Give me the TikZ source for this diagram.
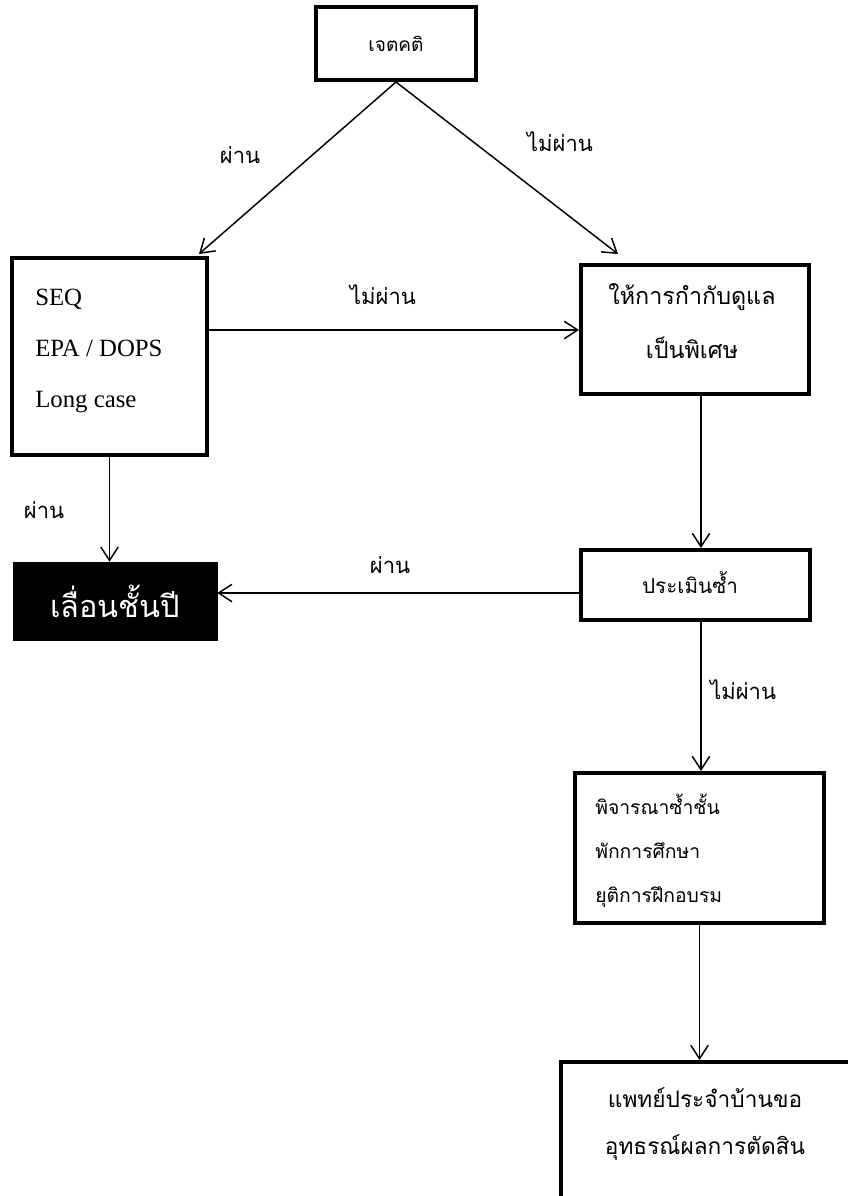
\documentclass[tikz,border=0pt]{standalone}
\usepackage{fontspec}
\setmainfont{Liberation Serif}
\newfontfamily\thai[Script=Thai]{Loma}
\usetikzlibrary{arrows.meta,calc}
\begin{document}
\begin{tikzpicture}[x=0.75pt,y=-0.75pt,
  box/.style={draw,line width=3pt,rectangle,inner sep=0pt},
  conn/.style={line width=1.1pt,-{Straight Barb[length=10pt,width=13pt,line width=1.1pt]}},
  lbl/.style={font=\thai\fontsize{16.5}{18}\selectfont,inner sep=0pt}]
\useasboundingbox (0,0) rectangle (848,1196);
\clip (0,0) rectangle (848,1196);
\node[box,minimum width=160*0.75pt,minimum height=73*0.75pt,font=\thai\fontsize{14.3}{16}\selectfont] (top) at (396,43.5) {เจตคติ};
\node[box,minimum width=195*0.75pt,minimum height=197*0.75pt] (seq) at (109.5,356.5) {};
\node[anchor=west,align=left,inner sep=0pt,font=\fontsize{18.6}{38}\selectfont] (seqt) at (35,351) {SEQ\\EPA / DOPS\\Long case};
\node[box,minimum width=228*0.75pt,minimum height=129*0.75pt] (rb) at (695,329.5) {};
\node[align=center,inner sep=0pt,font=\thai\fontsize{17.5}{40}\selectfont] (rbt) at (692,321) {ให้การกำกับดูแล\\เป็นพิเศษ};
\node[box,minimum width=229*0.75pt,minimum height=70*0.75pt] (re) at (695.5,585) {};
\node[inner sep=0pt,font=\thai\fontsize{15.5}{18}\selectfont] (ret) at (690,583) {ประเมินซ้ำ};
\node[draw,fill=black,text=white,inner sep=0pt,minimum width=204*0.75pt,minimum height=78*0.75pt,font=\thai\fontsize{23}{26}\selectfont] (blk) at (115,601) {เลื่อนชั้นปี};
\node[box,minimum width=249*0.75pt,minimum height=150*0.75pt] (pj) at (699.5,848) {};
\node[anchor=west,align=left,inner sep=0pt,font=\thai\fontsize{14.5}{33}\selectfont] (pjt) at (595,851) {พิจารณาซ้ำชั้น\\พักการศึกษา\\ยุติการฝึกอบรม};
\node[box,minimum width=340*0.75pt,minimum height=178*0.75pt] (bt) at (731,1151) {};
\node[align=center,inner sep=0pt,font=\thai\fontsize{17}{35.5}\selectfont] (btt) at (705,1124) {แพทย์ประจำบ้านขอ\\อุทธรณ์ผลการตัดสิน};
% helper coordinates
\coordinate (rbs) at ($(rb.south)+(6,0)$);
\coordinate (res) at ($(re.south)+(5.5,0)$);
\coordinate (seqa) at ($(seq.north east)+(-10,-2)$);
\coordinate (rba) at ($(rb.north west)+(39,-9)$);
% connectors
\draw[conn] (top.south) -- (seqa);
\draw[conn] (top.south) -- (rba);
\draw[conn] (seq.east |- 0,330) -- (rb.west |- 0,330);
\draw[conn] (seq.south) -- (seq.south |- blk.north);
\draw[conn] (rbs) -- (rbs |- re.north);
\draw[conn] (re.west |- 0,593) -- (blk.east |- 0,593);
\draw[conn] (res) -- (res |- pj.north);
\draw[conn] (pj.south) -- (pj.south |- bt.north);
% labels
\node[lbl] (l1) at (240,155) {ผ่าน};
\node[lbl] (l2) at (560,142) {ไม่ผ่าน};
\node[lbl] (l3) at (383,295) {ไม่ผ่าน};
\node[lbl] (l4) at (44,510) {ผ่าน};
\node[lbl] (l5) at (390,565) {ผ่าน};
\node[lbl,anchor=west] (l6) at (710,690) {ไม่ผ่าน};
\end{tikzpicture}
\end{document}
